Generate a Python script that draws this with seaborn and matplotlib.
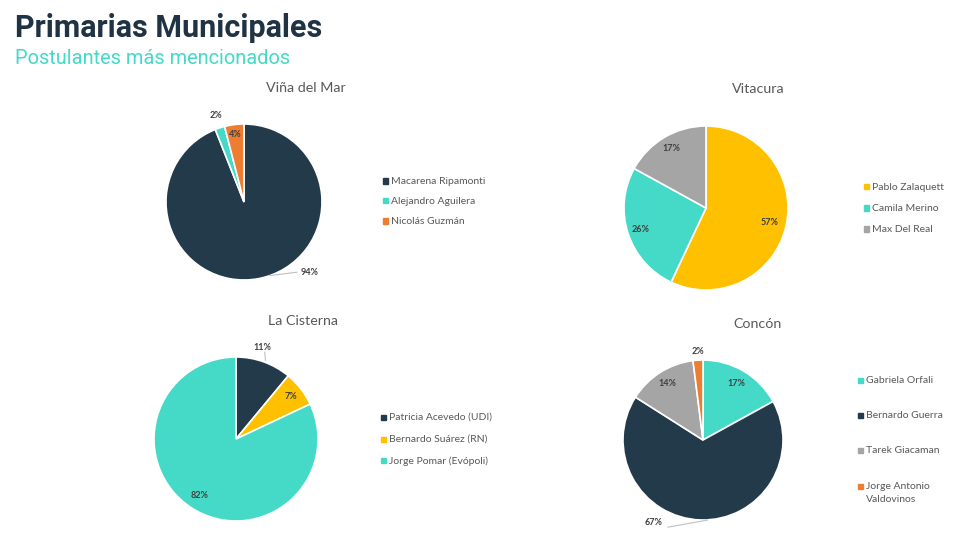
import numpy as np
import matplotlib
matplotlib.use("Agg")
import matplotlib.pyplot as plt
from matplotlib.patches import Rectangle
import seaborn as sns

# data
vina_names = ["Macarena Ripamonti", "Alejandro Aguilera", "Nicolás Guzmán"]
vina_pct = [94, 2, 4]
vitacura_names = ["Pablo Zalaquett", "Camila Merino", "Max Del Real"]
vitacura_pct = [57, 26, 17]
cisterna_names = ["Patricia Acevedo (UDI)", "Bernardo Suárez (RN)", "Jorge Pomar (Evópoli)"]
cisterna_pct = [11, 7, 82]
concon_names = ["Gabriela Orfali", "Bernardo Guerra", "Tarek Giacaman", "Jorge Antonio\nValdovinos"]
concon_pct = [17, 67, 14, 2]

NAVY = "#233A4B"
TEAL = "#45D9C8"
ORANGE = "#ED7D31"
YELLOW = "#FFC000"
GRAY = "#A5A5A5"

sns.set_theme(style="white")
plt.rcParams["font.family"] = ["Lato", "DejaVu Sans"]

W, H = 960, 540
fig = plt.figure(figsize=(9.6, 5.4), dpi=100)
fig.patch.set_facecolor("white")


def fx(x):
    return x / W


def fy(y):
    return 1 - y / H


fig.text(fx(15), fy(28), "Primarias Municipales", family="Roboto", weight="bold",
         fontsize=22, color="#1F3344", va="center", ha="left")
fig.text(fx(15), fy(59), "Postulantes más mencionados", family="Roboto",
         fontsize=14.4, color="#45D9C8", va="center", ha="left")


def draw_pie(cx, cy, R, values, colors, label_pos, title, title_xy,
             names, leg_x, leg_ys, leaders=()):
    L = 1.5
    size = 2 * L * R
    ax = fig.add_axes([fx(cx - L * R), fy(cy + L * R), size / W, size / H])
    wedges, _ = ax.pie(values, colors=colors, startangle=90, counterclock=False,
                       radius=1, wedgeprops=dict(edgecolor="white", linewidth=1.2))
    ax.set_xlim(-L, L)
    ax.set_ylim(-L, L)
    ax.set_aspect("equal")
    ax.axis("off")
    for w, v, pos in zip(wedges, values, label_pos):
        r, ang, ha = pos
        if ang is None:
            ang = (w.theta1 + w.theta2) / 2
        a = np.deg2rad(ang)
        ax.text(r * np.cos(a), r * np.sin(a), f"{v}%", ha=ha, va="center",
                fontsize=6.5, weight="bold", color="#404040")
    for (x0, y0), (x1, y1) in leaders:
        ax.plot([x0, x1], [y0, y1], color="#BFBFBF", lw=0.8, clip_on=False)
    fig.text(fx(title_xy[0]), fy(title_xy[1]), title, ha="center", va="center",
             fontsize=10.3, color="#595959")
    for name, c, ly in zip(names, colors, leg_ys):
        fig.patches.append(Rectangle((fx(leg_x), fy(ly + 2.5)), 5 / W, 5 / H,
                                     transform=fig.transFigure, color=c))
        fig.text(fx(leg_x + 8), fy(ly - 4), name, ha="left", va="top",
                 fontsize=7.5, color="#595959", linespacing=1.55)


draw_pie(244, 202, 78, vina_pct, [NAVY, TEAL, ORANGE],
         [(1.152, -51.3, "left"), (1.16, None, "center"), (0.87, None, "center")],
         "Viña del Mar", (306, 88), vina_names, 383, [181, 201, 221],
         leaders=[((0.33, -0.944), (0.68, -0.90))])

draw_pie(706, 208, 82, vitacura_pct, [YELLOW, TEAL, GRAY],
         [(0.8, None, "center"), (0.84, None, "center"), (0.84, None, "center")],
         "Vitacura", (758, 89), vitacura_names, 864, [187, 208, 229])

draw_pie(236, 439, 82, cisterna_pct, [NAVY, YELLOW, TEAL],
         [(1.16, 74, "center"), (0.84, None, "center"), (0.82, None, "center")],
         "La Cisterna", (303, 321), cisterna_names, 381, [417, 439, 460],
         leaders=[((0.36, 0.96), (0.35, 1.06))])

draw_pie(703, 440, 80, concon_pct, [TEAL, NAVY, GRAY, ORANGE],
         [(0.82, None, "center"), (1.2, -121, "center"), (0.84, None, "center"),
          (1.11, None, "center")],
         "Concón", (758, 324), concon_names, 858, [380, 415, 450, 486],
         leaders=[((-0.44, -1.09), (0.06, -1.0))])

fig.savefig("out.png", dpi=100, facecolor="white")
